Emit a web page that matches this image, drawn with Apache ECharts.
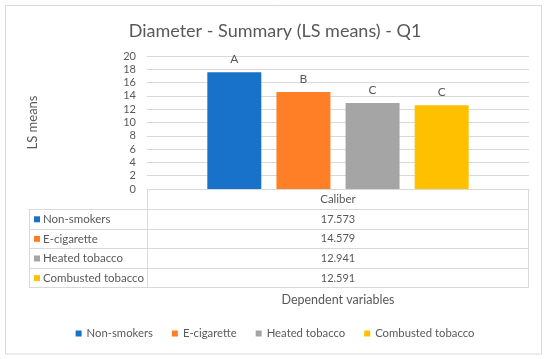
<!DOCTYPE html>
<html><head><meta charset="utf-8">
<script src="https://cdn.jsdelivr.net/npm/echarts@6/dist/echarts.min.js"></script>
<style>html,body{margin:0;padding:0;background:#fff}#c{width:550px;height:359px}</style>
</head><body><div id="c"></div>
<script>
// ---- data ----
const categories = ['Caliber'];
const seriesNames = ['Non-smokers', 'E-cigarette', 'Heated tobacco', 'Combusted tobacco'];
const nonSmokers = [17.573];
const eCigarette = [14.579];
const heatedTobacco = [12.941];
const combustedTobacco = [12.591];
const groupLetters = ['A', 'B', 'C', 'C'];
const yMin = 0, yMax = 20, yStep = 2;

// ---- styling ----
const colors = ['#1872C9', '#FE7F26', '#A5A5A5', '#FFC000'];
const txt = '#595959';
const lineC = '#D9D9D9';
const FF = 'Lato';
const G = {left: 147, right: 21, top: 56, bottom: 170};
const W = 550, H = 359;

const seriesValues = [nonSmokers, eCigarette, heatedTobacco, combustedTobacco];

const chart = echarts.init(document.getElementById('c'), null, {renderer: 'canvas'});

// table geometry (below the x-axis)
const axisY = H - G.bottom;
const plotL = G.left, plotR = W - G.right;
const tableL = 29;
const rowH = 19.6;
const rowsTop = axisY + 20;
const graphics = [];
graphics.push({type: 'rect', shape: {x: 5.5, y: 5.5, width: 536, height: 348.5}, style: {fill: 'none', stroke: lineC, lineWidth: 1}, silent: true});
for (let i = 0; i <= seriesNames.length; i++) {
  const y = Math.round(rowsTop + i * rowH) + 0.5;
  graphics.push({type: 'line', shape: {x1: tableL, y1: y, x2: plotR, y2: y}, style: {stroke: lineC, lineWidth: 1}, silent: true});
}
const tableBottom = Math.round(rowsTop + seriesNames.length * rowH) + 0.5;
graphics.push({type: 'line', shape: {x1: tableL + 0.5, y1: Math.round(rowsTop) + 0.5, x2: tableL + 0.5, y2: tableBottom}, style: {stroke: lineC, lineWidth: 1}, silent: true});
graphics.push({type: 'line', shape: {x1: plotL + 0.5, y1: axisY, x2: plotL + 0.5, y2: tableBottom}, style: {stroke: lineC, lineWidth: 1}, silent: true});
graphics.push({type: 'line', shape: {x1: plotR - 0.5, y1: axisY, x2: plotR - 0.5, y2: tableBottom}, style: {stroke: lineC, lineWidth: 1}, silent: true});
seriesNames.forEach((n, i) => {
  const cy = rowsTop + i * rowH + rowH / 2 + 0.5;
  graphics.push({type: 'rect', shape: {x: 34, y: cy - 3, width: 6, height: 6}, style: {fill: colors[i]}, silent: true});
  graphics.push({type: 'text', x: 43, y: cy, style: {text: n, fill: txt, font: '11.5px "' + FF + '"', textVerticalAlign: 'middle', textAlign: 'left'}, silent: true});
  graphics.push({type: 'text', x: (plotL + plotR) / 2, y: cy, style: {text: seriesValues[i][0].toFixed(3), fill: txt, font: '11px "' + FF + '"', textVerticalAlign: 'middle', textAlign: 'center'}, silent: true});
});

const option = {
  backgroundColor: '#fff',
  animation: false,
  textStyle: {fontFamily: FF},
  title: {
    text: 'Diameter - Summary (LS means) - Q1',
    left: 'center', top: 17,
    textStyle: {fontFamily: FF, fontSize: 18, fontWeight: 'normal', color: txt}
  },
  legend: {
    data: seriesNames,
    left: 'center', top: 323,
    icon: 'rect', itemWidth: 6, itemHeight: 6, itemGap: 19,
    textStyle: {fontFamily: FF, fontSize: 11.3, color: txt}
  },
  grid: G,
  xAxis: {
    type: 'category', data: categories,
    axisLine: {show: true, lineStyle: {color: lineC, width: 1}},
    axisTick: {show: false},
    axisLabel: {color: txt, fontFamily: FF, fontSize: 11.5, margin: 4},
    name: 'Dependent variables', nameLocation: 'middle', nameGap: 104,
    nameTextStyle: {color: txt, fontFamily: FF, fontSize: 12.5}
  },
  yAxis: {
    type: 'value', min: yMin, max: yMax, interval: yStep,
    axisLine: {show: false}, axisTick: {show: false},
    axisLabel: {color: txt, fontFamily: FF, fontSize: 11, margin: 11},
    splitLine: {lineStyle: {color: lineC, width: 1}},
    name: 'LS means', nameLocation: 'middle', nameGap: 108,
    nameTextStyle: {color: txt, fontFamily: FF, fontSize: 13}
  },
  series: seriesNames.map((n, i) => ({
    name: n, type: 'bar', data: seriesValues[i],
    barWidth: 54, barGap: '28%',
    itemStyle: {color: colors[i]},
    label: {show: true, position: 'top', distance: 7, formatter: () => groupLetters[i], color: txt, fontFamily: FF, fontSize: 12}
  })),
  graphic: graphics
};
chart.setOption(option);
</script></body></html>
